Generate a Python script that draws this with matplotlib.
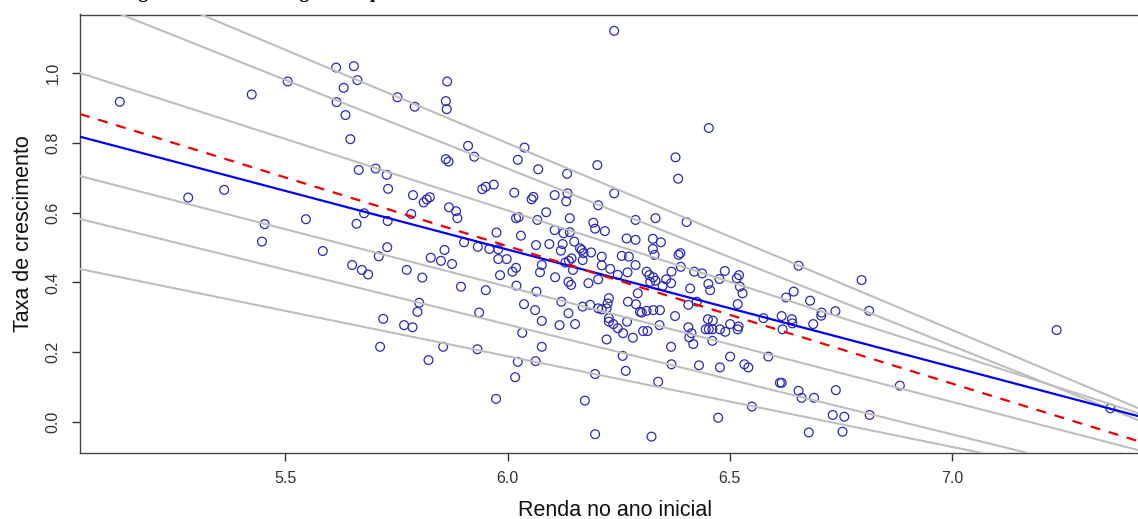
import matplotlib
matplotlib.use('Agg')
import matplotlib.pyplot as plt
import numpy as np

plt.rcParams['font.family'] = ['Liberation Sans', 'DejaVu Sans']

# ---- data ----
renda = [5.127, 5.424, 5.505, 5.281, 5.362, 5.614, 5.654, 5.662, 5.631, 5.615,
         5.635, 5.646, 5.752, 5.665, 5.703, 5.728, 5.731, 5.677, 5.730, 5.660,
         5.546, 5.453, 5.447, 5.584, 5.729, 5.710, 5.650, 5.672, 5.686, 5.720,
         5.713, 5.791, 5.864, 5.861, 5.863, 5.911, 6.038, 5.925, 5.861, 5.867,
         6.023, 6.069, 6.134, 6.202, 6.453, 6.378, 6.384, 5.787, 5.811, 5.818,
         5.825, 5.783, 5.943, 5.951, 5.969, 6.015, 6.054, 6.058, 6.106, 6.135,
         6.132, 6.087, 6.067, 6.025, 6.019, 5.868, 5.884, 5.887, 5.975, 6.030,
         6.140, 6.106, 6.126, 6.140, 6.150, 6.204, 6.240, 6.193, 6.197, 6.219,
         6.288, 6.333, 6.403, 6.268, 6.288, 6.327, 6.345, 6.327, 6.331, 6.385,
         6.389, 6.390, 6.369, 6.420, 6.438, 6.489, 6.477, 6.516, 6.521, 6.452,
         5.933, 5.902, 5.959, 5.979, 5.979, 5.998, 6.064, 6.094, 6.124, 6.120,
         6.163, 6.167, 6.171, 6.169, 6.188, 6.212, 6.212, 6.231, 6.248, 6.257,
         6.273, 6.288, 6.270, 6.138, 6.144, 6.130, 6.147, 6.077, 6.073, 6.019,
         6.011, 5.983, 5.875, 5.850, 5.827, 5.858, 5.773, 5.808, 6.107, 6.182,
         6.204, 6.313, 6.319, 6.328, 6.333, 6.357, 6.368, 6.349, 6.321, 6.523,
         5.895, 5.951, 6.020, 6.411, 6.456, 6.065, 6.037, 6.062, 6.077, 6.121,
         6.137, 6.152, 6.117, 6.169, 6.186, 6.204, 6.212, 6.223, 6.228, 6.225,
         6.228, 6.228, 6.238, 6.248, 6.260, 6.269, 6.271, 6.289, 6.298, 6.302,
         6.313, 6.328, 6.343, 6.293, 6.305, 6.315, 6.342, 6.282, 6.223, 6.259,
         6.197, 6.266, 6.339, 6.377, 6.368, 6.369, 6.407, 6.409, 6.414, 6.418,
         6.407, 6.426, 6.431, 6.446, 6.453, 6.461, 6.451, 6.462, 6.461, 6.478,
         6.490, 6.478, 6.474, 6.501, 6.520, 6.518, 6.501, 6.533, 6.542, 6.529,
         6.518, 6.550, 6.587, 6.576, 6.613, 6.137, 6.143, 5.974, 6.023, 6.017,
         6.063, 6.077, 6.033, 5.936, 5.932, 5.855, 5.822, 5.801, 5.797, 5.767,
         5.786, 6.174, 6.197, 6.324, 6.655, 6.797, 6.644, 6.627, 6.681, 6.814,
         6.707, 6.706, 6.738, 6.617, 6.640, 6.641, 6.688, 6.619, 7.236, 6.617,
         6.655, 6.662, 6.690, 6.739, 6.883, 6.732, 6.758, 6.815, 6.678, 6.754,
         7.357, 6.240]
taxa = [0.917, 0.938, 0.975, 0.643, 0.665, 1.015, 1.019, 0.979, 0.957, 0.916,
        0.879, 0.810, 0.930, 0.722, 0.726, 0.708, 0.668, 0.598, 0.576, 0.568,
        0.581, 0.567, 0.517, 0.490, 0.501, 0.475, 0.450, 0.436, 0.423, 0.296,
        0.216, 0.903, 0.975, 0.919, 0.896, 0.791, 0.786, 0.760, 0.753, 0.746,
        0.751, 0.724, 0.711, 0.736, 0.842, 0.758, 0.697, 0.650, 0.629, 0.638,
        0.644, 0.596, 0.667, 0.674, 0.680, 0.657, 0.638, 0.645, 0.650, 0.655,
        0.632, 0.601, 0.579, 0.587, 0.584, 0.615, 0.604, 0.584, 0.543, 0.534,
        0.584, 0.550, 0.541, 0.544, 0.517, 0.621, 0.655, 0.571, 0.554, 0.547,
        0.579, 0.584, 0.573, 0.526, 0.522, 0.525, 0.515, 0.496, 0.479, 0.479,
        0.484, 0.445, 0.431, 0.431, 0.426, 0.433, 0.410, 0.412, 0.421, 0.396,
        0.502, 0.515, 0.496, 0.495, 0.467, 0.467, 0.507, 0.510, 0.510, 0.491,
        0.498, 0.493, 0.484, 0.464, 0.486, 0.474, 0.449, 0.439, 0.422, 0.476,
        0.474, 0.450, 0.429, 0.462, 0.469, 0.457, 0.436, 0.450, 0.429, 0.442,
        0.431, 0.421, 0.453, 0.462, 0.471, 0.493, 0.436, 0.414, 0.415, 0.398,
        0.409, 0.431, 0.421, 0.415, 0.405, 0.409, 0.398, 0.390, 0.402, 0.388,
        0.388, 0.378, 0.391, 0.383, 0.378, 0.374, 0.338, 0.321, 0.290, 0.345,
        0.312, 0.281, 0.278, 0.331, 0.336, 0.326, 0.323, 0.326, 0.355, 0.340,
        0.298, 0.288, 0.281, 0.269, 0.255, 0.288, 0.345, 0.338, 0.316, 0.314,
        0.319, 0.321, 0.321, 0.369, 0.261, 0.261, 0.278, 0.242, 0.237, 0.190,
        0.138, 0.147, 0.116, 0.304, 0.216, 0.166, 0.272, 0.243, 0.255, 0.224,
        0.336, 0.345, 0.163, 0.266, 0.266, 0.266, 0.295, 0.291, 0.233, 0.266,
        0.259, 0.157, 0.013, 0.281, 0.274, 0.266, 0.188, 0.166, 0.157, 0.369,
        0.338, 0.045, 0.188, 0.298, 0.113, 0.402, 0.393, 0.067, 0.173, 0.129,
        0.175, 0.216, 0.256, 0.314, 0.209, 0.216, 0.178, 0.342, 0.316, 0.278,
        0.272, 0.062, -0.034, -0.041, 0.448, 0.407, 0.374, 0.357, 0.348, 0.319,
        0.314, 0.305, 0.318, 0.304, 0.295, 0.283, 0.281, 0.266, 0.264, 0.113,
        0.090, 0.070, 0.070, 0.092, 0.105, 0.021, 0.016, 0.021, -0.029, -0.027,
        0.040, 1.120]

# quantile regression lines (intercept, slope)
quantis = [0.95, 0.90, 0.75, 0.25, 0.10, 0.05]
quantil_intercepto = [4.0019, 3.7674, 3.0572, 2.3630, 2.1630, 1.7448]
quantil_inclinacao = [-0.5339, -0.5069, -0.4085, -0.3292, -0.3139, -0.2593]
mediana_intercepto, mediana_inclinacao = 2.5078, -0.3356
mqo_intercepto, mqo_inclinacao = 2.8613, -0.3929

xticks = [5.5, 6.0, 6.5, 7.0]
yticks = [0.0, 0.2, 0.4, 0.6, 0.8, 1.0]

# ---- figure ----
W, H = 1138, 519
fig = plt.figure(figsize=(W / 100, H / 100), dpi=100)
ax = fig.add_axes([80 / W, 66.3 / H, 1070 / W, 438.2 / H])

ax.scatter(renda, taxa, s=40, facecolors='none', edgecolors='#2a2ab4',
           linewidths=0.9, zorder=2)

for a, b in zip(quantil_intercepto, quantil_inclinacao):
    ax.axline((0, a), slope=b, color='#bebebe', lw=1.5, zorder=3)
ax.axline((0, mediana_intercepto), slope=mediana_inclinacao, color='#0000ee',
          lw=1.6, zorder=4)
ax.axline((0, mqo_intercepto), slope=mqo_inclinacao, color='#ee0000',
          lw=1.6, dashes=(4.5, 4), zorder=5)

ax.set_xlim(5.0374, 5.0374 + 1070 / 444.2)
ax.set_ylim(-0.087, 1.1668)

ax.set_xticks(xticks)
ax.set_xticklabels([f'{v:.1f}' for v in xticks])
ax.set_yticks(yticks)
ax.set_yticklabels([f'{v:.1f}' for v in yticks], rotation=90, va='center')
ax.tick_params(direction='out', length=6, width=1, colors='#333333',
               labelsize=11.5, labelcolor='#333333')
ax.tick_params(axis='y', pad=8)
ax.tick_params(axis='x', pad=7)
for sp in ax.spines.values():
    sp.set_color('#444444')
    sp.set_linewidth(1.0)

ax.set_xlabel('Renda no ano inicial', fontsize=15.5, color='#111111', labelpad=10)
ax.set_ylabel('Taxa de crescimento', fontsize=15.5, color='#111111', labelpad=8)

# title: only its lower part falls inside the picture, as in the reference
fig.text(78 / W, 1.0 + 1.5 / H, 'Convergência de renda: Regressão quantílica',
         fontfamily='Liberation Serif', fontweight='bold', fontsize=13.8,
         ha='left', va='baseline')

fig.savefig('out.png', dpi=100)
